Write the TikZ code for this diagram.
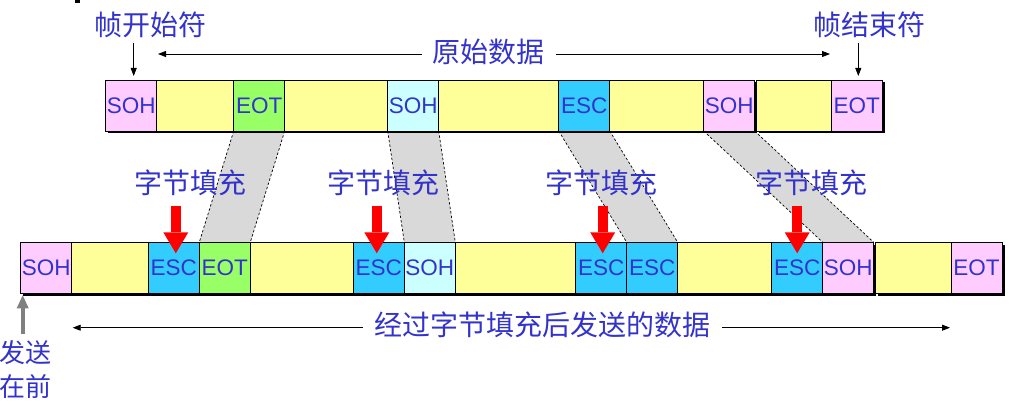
\documentclass[tikz,border=0pt]{standalone}
\usepackage{fontspec}
\setmainfont{Liberation Sans}
\newfontfamily\cjk{Noto Sans CJK SC}
\usetikzlibrary{positioning,arrows.meta,backgrounds}
\definecolor{sohpink}{HTML}{FFCCFF}
\definecolor{sohcyan}{HTML}{CCFFFF}
\definecolor{datayel}{HTML}{FFFF99}
\definecolor{eotgreen}{HTML}{99FF66}
\definecolor{escblue}{HTML}{33CCFF}
\definecolor{txtblue}{HTML}{3333CC}
\definecolor{bandgray}{HTML}{D9D9D9}
\begin{document}
\begin{tikzpicture}%
	[x=1pt, y=-1pt,
	cell/.style={draw=black, line width=0.9pt, inner sep=0pt, outer sep=0pt, minimum height=51pt, minimum width=51pt, text=txtblue, font=\fontsize{22.5}{22.5}\selectfont},
	soh/.style={cell, fill=sohpink},
	sohc/.style={cell, fill=sohcyan},
	eot/.style={cell, fill=eotgreen},
	eotp/.style={cell, fill=sohpink},
	esc/.style={cell, fill=escblue},
	datacell/.style={cell, fill=datayel},
	cntext/.style={text=txtblue, inner sep=0pt, font=\cjk\fontsize{28}{28}\selectfont},
	band/.style={fill=bandgray},
	bandedge/.style={black, line width=0.7pt, dash pattern=on 2.5pt off 2pt},
	rowshadow/.style={fill=black},
	ptr/.style={line width=0.8pt, -{Triangle[length=8pt,width=6pt]}},
	fillmark/.style={red, line width=10pt, -{Triangle[length=21pt,width=25pt,line width=0pt]}},
	sendfirst/.style={gray, line width=4.3pt, -{Triangle[length=13pt,width=12pt,line width=0pt]}}]
%
\useasboundingbox (0,0) rectangle (1009,411);
\fill (75,0) rectangle (79.5,3);
%%
%% Original frame
%%
\node[soh, anchor=north west] (tsoh1) at (105.7,80) {SOH};
\node[datacell, minimum width=77pt, right=0pt of tsoh1] (ty1) {};
\node[eot, right=0pt of ty1] (teot1) {EOT};
\node[datacell, minimum width=103pt, right=0pt of teot1] (ty2) {};
\node[sohc, right=0pt of ty2] (tsoh2) {SOH};
\node[datacell, minimum width=120pt, right=0pt of tsoh2] (ty3) {};
\node[esc, right=0pt of ty3] (tesc) {ESC};
\node[datacell, minimum width=94pt, right=0pt of tesc] (ty4) {};
\node[soh, right=0pt of ty4] (tsoh3) {SOH};
\node[datacell, minimum width=75pt, right=1.6pt of tsoh3] (ty5) {};
\node[eotp, right=0pt of ty5] (teot2) {EOT};
%%
%% Frame after byte stuffing
%%
\node[soh, anchor=north west] (bsoh1) at (20.7,242.3) {SOH};
\node[datacell, minimum width=76.6pt, right=0pt of bsoh1] (by1) {};
\node[esc, right=0pt of by1] (besc1) {ESC};
\node[eot, right=0pt of besc1] (beot1) {EOT};
\node[datacell, minimum width=103pt, right=0pt of beot1] (by2) {};
\node[esc, right=0pt of by2] (besc2) {ESC};
\node[sohc, right=0pt of besc2] (bsoh2) {SOH};
\node[datacell, minimum width=120.4pt, right=0pt of bsoh2] (by3) {};
\node[esc, right=0pt of by3] (besc3) {ESC};
\node[esc, right=0pt of besc3] (besc4) {ESC};
\node[datacell, minimum width=94pt, right=0pt of besc4] (by4) {};
\node[esc, right=0pt of by4] (besc5) {ESC};
\node[soh, right=0pt of besc5] (bsoh3) {SOH};
\node[datacell, minimum width=75.4pt, right=2pt of bsoh3] (by5) {};
\node[eotp, right=0pt of by5] (beot2) {EOT};
%%
%% Bands and shadows
%%
\begin{scope}[on background layer]
\fill[band] (teot1.south west) -- (teot1.south east) -- (beot1.north east) -- (beot1.north west) -- cycle;
\fill[band] (tsoh2.south west) -- (tsoh2.south east) -- (bsoh2.north east) -- (bsoh2.north west) -- cycle;
\fill[band] (tesc.south west) -- (tesc.south east) -- (besc4.north east) -- (besc4.north west) -- cycle;
\fill[band] (tsoh3.south west) -- (tsoh3.south east) -- (bsoh3.north east) -- (bsoh3.north west) -- cycle;
\draw[bandedge] (teot1.south west) -- (beot1.north west);
\draw[bandedge] (teot1.south east) -- (beot1.north east);
\draw[bandedge] (tsoh2.south west) -- (bsoh2.north west);
\draw[bandedge] (tsoh2.south east) -- (bsoh2.north east);
\draw[bandedge] (tesc.south west) -- (besc4.north west);
\draw[bandedge] (tesc.south east) -- (besc4.north east);
\draw[bandedge] (tsoh3.south west) -- (bsoh3.north west);
\draw[bandedge] (tsoh3.south east) -- (bsoh3.north east);
\fill[rowshadow] ([shift={(2.5pt,-2.5pt)}]tsoh1.north west) rectangle ([shift={(2.5pt,-2.5pt)}]tsoh3.south east);
\fill[rowshadow] ([shift={(2.5pt,-2.5pt)}]ty5.north west) rectangle ([shift={(2.5pt,-2.5pt)}]teot2.south east);
\fill[rowshadow] ([shift={(2.5pt,-2.5pt)}]bsoh1.north west) rectangle ([shift={(2.5pt,-2.5pt)}]bsoh3.south east);
\fill[rowshadow] ([shift={(2.5pt,-2.5pt)}]by5.north west) rectangle ([shift={(2.5pt,-2.5pt)}]beot2.south east);
\end{scope}
%%
%% Labels
%%
\node[cntext] (startlbl) at (150,25) {帧开始符};
\node[cntext] (endlbl) at (869,25) {帧结束符};
\node[cntext] (origlbl) at (488,52) {原始数据};
\node[cntext] (stuff1) at (190,183) {字节填充};
\node[cntext] (stuff2) at (383,183) {字节填充};
\node[cntext] (stuff3) at (601,183) {字节填充};
\node[cntext] (stuff4) at (811,183) {字节填充};
\node[cntext] (sentlbl) at (542,325) {经过字节填充后发送的数据};
\node[cntext, align=left, anchor=west, font=\cjk\fontsize{26}{34}\selectfont] (firstlbl) at (-1,370) {发送\\在前};
%%
\coordinate (origL) at (158,54);
\coordinate (origR) at (830,54);
\coordinate (sentL) at (72.7,327.7);
\coordinate (sentR) at (950,327.7);
%%
%% Arrows
%%
\draw[ptr] ([xshift=2.5pt,yshift=37pt]tsoh1.north) -- ([xshift=2.5pt,yshift=4pt]tsoh1.north);
\draw[ptr] ([xshift=1.5pt,yshift=37pt]teot2.north) -- ([xshift=1.5pt,yshift=4pt]teot2.north);
\draw[ptr] ([xshift=-10pt,yshift=-2pt]origlbl.west) -- (origL);
\draw[ptr] ([xshift=12pt,yshift=-2pt]origlbl.east) -- (origR);
\draw[ptr] ([xshift=-11pt,yshift=-2.7pt]sentlbl.west) -- (sentL);
\draw[ptr] ([xshift=12pt,yshift=-2.7pt]sentlbl.east) -- (sentR);
\draw[fillmark] ([xshift=2pt,yshift=36.6pt]besc1.north) -- ([xshift=2pt,yshift=-11pt]besc1.north);
\draw[fillmark] ([xshift=-2pt,yshift=36.6pt]besc2.north) -- ([xshift=-2pt,yshift=-11pt]besc2.north);
\draw[fillmark] ([xshift=1.5pt,yshift=36.6pt]besc3.north) -- ([xshift=1.5pt,yshift=-11pt]besc3.north);
\draw[fillmark] ([yshift=36.6pt]besc5.north) -- ([yshift=-11pt]besc5.north);
\draw[sendfirst] ([xshift=2pt,yshift=-41pt]bsoh1.south west) -- ([xshift=2pt,yshift=-2pt]bsoh1.south west);
%%
\end{tikzpicture}
\end{document}
